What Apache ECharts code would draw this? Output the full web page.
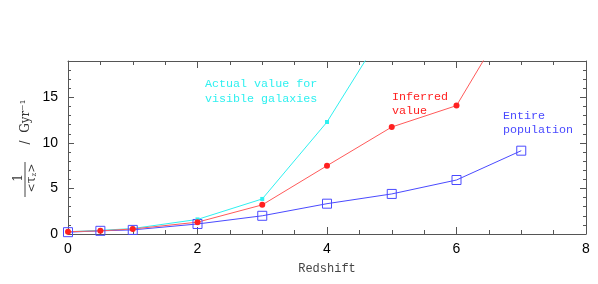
<!DOCTYPE html>
<html>
<head>
<meta charset="utf-8">
<script src="https://cdn.jsdelivr.net/npm/echarts@6/dist/echarts.min.js"></script>
<style>html,body{margin:0;padding:0;background:#fff}#c{width:598px;height:284px}</style>
</head>
<body>
<div id="c"></div>
<script>
// Data
const zActual = [0, 0.5, 1, 2, 3, 4, 5];
const actualValues = [0.25, 0.4, 0.6, 1.6, 3.85, 12.3, 23.7];
const zInferred = [0, 0.5, 1, 2, 3, 4, 5, 6, 7];
const inferredValues = [0.25, 0.35, 0.55, 1.3, 3.2, 7.5, 11.75, 14.1, 26.0];
const zEntire = [0, 0.5, 1, 2, 3, 4, 5, 6, 7];
const entireValues = [0.2, 0.35, 0.45, 1.1, 2.0, 3.33, 4.4, 5.93, 9.15];
const xTicks = [0, 2, 4, 6, 8];
const yTicks = [0, 5, 10, 15];

const pairs = (xs, ys) => xs.map((x, i) => [x, ys[i]]);
const cyan = '#2ff0f0', red = '#ff2020', blue = '#4a4aff';
const mono = '"Liberation Mono"';

const chart = echarts.init(document.getElementById('c'));
const axLine = {onZero: false, lineStyle: {color: '#555', width: 1}};
const tickStyle = {color: '#555'};
chart.setOption({
  animation: false,
  grid: {left: 68, right: 12, top: 61, bottom: 50},
  xAxis: [
    {type: 'value', min: 0, max: 8, interval: 2, position: 'bottom', axisLine: axLine, splitLine: {show: false},
      axisTick: {inside: true, length: 7, lineStyle: tickStyle},
      minorTick: {show: true, splitNumber: 4, length: 4, lineStyle: tickStyle},
      axisLabel: {color: '#000', fontSize: 14, fontFamily: 'Liberation Sans', margin: 8,
        formatter: v => xTicks.includes(v) ? String(v) : ''},
      name: 'Redshift', nameLocation: 'middle', nameGap: 29,
      nameTextStyle: {fontFamily: 'Liberation Mono', fontSize: 12, color: '#444'}
    },
    {type: 'value', min: 0, max: 8, interval: 2, position: 'top', axisLine: axLine, splitLine: {show: false},
      axisTick: {inside: true, length: 7, lineStyle: tickStyle},
      minorTick: {show: true, splitNumber: 4, length: 4, lineStyle: tickStyle},
      axisLabel: {show: false}
    }
  ],
  yAxis: [
    {type: 'value', min: 0, max: 19, interval: 5, position: 'left', axisLine: axLine, splitLine: {show: false},
      axisTick: {inside: true, length: 6, lineStyle: tickStyle},
      minorTick: {show: true, splitNumber: 5, length: 3, lineStyle: tickStyle},
      axisLabel: {color: '#000', fontSize: 14, fontFamily: 'Liberation Sans', margin: 10,
        formatter: v => yTicks.includes(v) ? String(v) : ''}
    },
    {type: 'value', min: 0, max: 19, interval: 5, position: 'right', axisLine: axLine, splitLine: {show: false},
      axisTick: {inside: true, length: 6, lineStyle: tickStyle},
      minorTick: {show: true, splitNumber: 5, length: 3, lineStyle: tickStyle},
      axisLabel: {show: false}
    }
  ],
  series: [
    {type: 'line', data: pairs(zEntire, entireValues), symbol: 'rect', symbolSize: 9,
      lineStyle: {color: blue, width: 1}, itemStyle: {color: 'rgba(0,0,0,0)', borderColor: blue, borderWidth: 1}},
    {type: 'line', data: pairs(zActual, actualValues), symbol: 'rect', symbolSize: 4,
      lineStyle: {color: cyan, width: 1}, itemStyle: {color: cyan}},
    {type: 'line', data: pairs(zInferred, inferredValues), symbol: 'circle', symbolSize: 6,
      lineStyle: {color: '#ff5a5a', width: 1}, itemStyle: {color: red}}
  ],
  graphic: [
    {type: 'text', left: 205, top: 76, style: {text: 'Actual value for\nvisible galaxies', fill: cyan,
      font: '11.7px ' + mono, lineHeight: 15}},
    {type: 'text', left: 392, top: 90, style: {text: 'Inferred\nvalue', fill: red,
      font: '11.7px ' + mono, lineHeight: 14}},
    {type: 'text', left: 503, top: 109, style: {text: 'Entire\npopulation', fill: blue,
      font: '11.7px ' + mono, lineHeight: 14}},
    {type: 'text', x: 19, y: 178, rotation: Math.PI / 2,
      style: {text: '1', fill: '#333', font: '12px "DejaVu Serif"', align: 'center', verticalAlign: 'middle'}},
    {type: 'line', shape: {x1: 25, y1: 162, x2: 25, y2: 197}, style: {stroke: '#444', lineWidth: 1}},
    {type: 'text', x: 32, y: 178, rotation: Math.PI / 2,
      style: {text: '<{t|τ}{s|z}>', fill: '#333', font: '11px "DejaVu Serif"', align: 'center', verticalAlign: 'middle',
        rich: {t: {font: '12px "DejaVu Serif"', fill: '#333'}, s: {font: '7px "DejaVu Serif"', fill: '#333', verticalAlign: 'bottom', padding: [4, 0, 0, 0]}}}},
    {type: 'text', x: 26, y: 122, rotation: Math.PI / 2,
      style: {text: '/  Gyr⁻¹', fill: '#333', font: '12px "DejaVu Serif"', align: 'center', verticalAlign: 'middle'}}
  ]
});
</script>
</body>
</html>
